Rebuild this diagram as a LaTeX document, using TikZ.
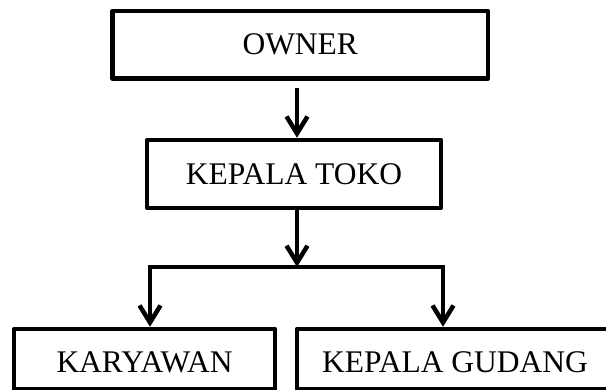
\documentclass[tikz,border=0pt]{standalone}
\usepackage{fontspec}
\setmainfont{Liberation Serif}
\usetikzlibrary{arrows.meta}
\begin{document}
\begin{tikzpicture}[x=1pt,y=-1pt,
  box/.style={draw, line width=4.5pt, line join=round, inner sep=0pt,
    font=\fontsize{31.5}{36}\selectfont},
  lowtext/.style={text height=27pt, text depth=0pt},
  conn/.style={line width=4.5pt},
  arr/.style={conn, -{Straight Barb[length=17pt,width=21pt]}}]
\useasboundingbox (0,0) rectangle (606,390);
\fill[white] (0,0) rectangle (606,390);
\node[box, minimum width=375.5pt, minimum height=67.5pt] (owner) at (300.25,44.75) {OWNER};
\node[box, minimum width=294pt, minimum height=68pt] (kt) at (294,174) {KEPALA TOKO};
\node[box, lowtext, minimum width=261pt, minimum height=60pt] (kary) at (144.5,359) {KARYAWAN};
\node[box, lowtext, minimum width=316pt, minimum height=60pt] (kg) at (455,359) {KEPALA GUDANG};
\coordinate (a1) at (297,88);
\coordinate (split) at (297,267);
\coordinate (bl) at (150,267);
\coordinate (br) at (443,267);
\draw[arr] (a1) -- (a1 |- kt.north);
\draw[arr] (split |- kt.south) -- (split);
\draw[arr] (split) -- (bl) -- (bl |- kary.north);
\draw[arr] (split) -- (br) -- (br |- kg.north);
\end{tikzpicture}
\end{document}
